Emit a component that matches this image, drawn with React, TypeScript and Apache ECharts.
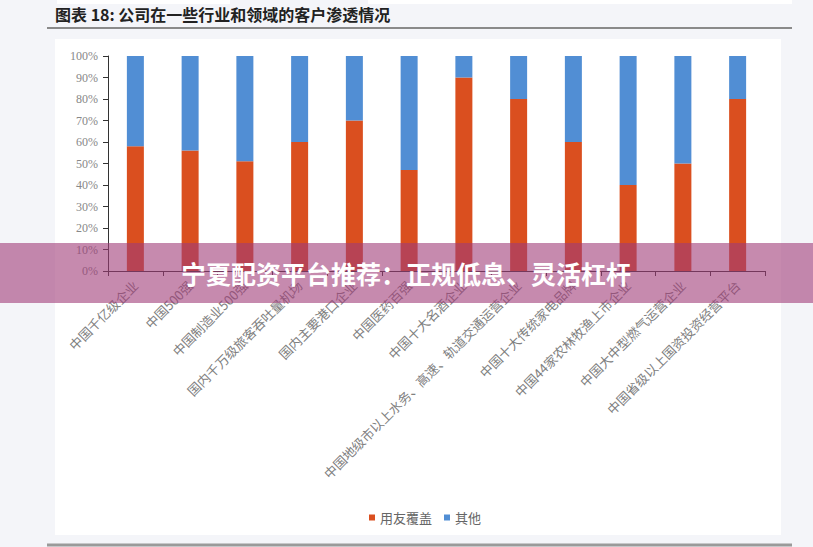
import React, { useEffect, useRef } from "react";
import * as echarts from "echarts";

const categories = [
  "中国千亿级企业",
  "中国500强",
  "中国制造业500强",
  "国内千万级旅客吞吐量机场",
  "国内主要港口企业",
  "中国医药百强",
  "中国十大名酒企业",
  "中国地级市以上水务、高速、轨道交通运营企业",
  "中国十大传统家电品牌",
  "中国44家农林牧渔上市企业",
  "中国大中型燃气运营企业",
  "中国省级以上国资投资经营平台",
];
const yonyouValues = [58, 56, 51, 60, 70, 47, 90, 80, 60, 40, 50, 80];
const otherValues = [42, 44, 49, 40, 30, 53, 10, 20, 40, 60, 50, 20];
const seriesNames = ["用友覆盖", "其他"];

const CJK = '"Noto Sans CJK SC", sans-serif';
const SERIF = '"Liberation Serif", "DejaVu Serif", serif';

const App = () => {
  const chartRef = useRef(null);

  useEffect(() => {
    const chart = echarts.init(chartRef.current, null, { renderer: "svg" });

    chart.setOption({
      animation: false,
      backgroundColor: "#f4f5f9",
      grid: { left: 108, right: 48, top: 56, bottom: 276, containLabel: false },
      legend: {
        data: seriesNames,
        top: 506,
        left: 364,
        icon: "rect",
        itemWidth: 6,
        itemHeight: 6,
        itemGap: 12,
        textStyle: { fontSize: 13, color: "#666", fontFamily: CJK },
      },
      xAxis: {
        type: "category",
        data: categories,
        axisLine: { lineStyle: { color: "#333", width: 1 } },
        axisTick: { show: true, length: 5, lineStyle: { color: "#333" } },
        axisLabel: {
          interval: 0,
          rotate: 45,
          margin: 12,
          fontSize: 13,
          color: "#808080",
          fontFamily: CJK,
        },
      },
      yAxis: {
        type: "value",
        min: 0,
        max: 100,
        interval: 10,
        splitLine: { show: false },
        axisLine: { show: true, lineStyle: { color: "#333", width: 1 } },
        axisTick: { show: true, length: 5, lineStyle: { color: "#333" } },
        axisLabel: {
          formatter: "{value}%",
          fontSize: 12,
          color: "#888",
          margin: 10,
          fontFamily: SERIF,
        },
      },
      series: [
        {
          name: seriesNames[0],
          type: "bar",
          stack: "total",
          barWidth: 17,
          data: yonyouValues,
          itemStyle: { color: "#da4f1f" },
        },
        {
          name: seriesNames[1],
          type: "bar",
          stack: "total",
          barWidth: 17,
          data: otherValues,
          itemStyle: { color: "#518ed4" },
        },
      ],
      graphic: [
        {
          type: "rect",
          z: -10,
          silent: true,
          shape: { x: 55, y: 39, width: 726, height: 496 },
          style: { fill: "#ffffff" },
        },
        {
          type: "rect",
          z: -10,
          silent: true,
          shape: { x: 57, y: 0, width: 173, height: 4 },
          style: { fill: "#ffffff" },
        },
        {
          type: "rect",
          z: -10,
          silent: true,
          shape: { x: 368, y: 0, width: 424, height: 4 },
          style: { fill: "#ffffff" },
        },
        {
          type: "text",
          x: 55,
          y: 6,
          silent: true,
          style: {
            text: "图表 18: 公司在一些行业和领域的客户渗透情况",
            fontSize: 16,
            fontWeight: "bold",
            fill: "#222",
            fontFamily: CJK,
          },
        },
        {
          type: "line",
          silent: true,
          shape: { x1: 47, y1: 28, x2: 792, y2: 28 },
          style: { stroke: "#8a8a8a", lineWidth: 2 },
        },
        {
          type: "line",
          silent: true,
          shape: { x1: 47, y1: 545, x2: 792, y2: 545 },
          style: { stroke: "#9a9a9a", lineWidth: 3 },
        },
        {
          type: "rect",
          z: 100,
          silent: true,
          shape: { x: 0, y: 243, width: 813, height: 60 },
          style: { fill: "rgba(160, 60, 120, 0.6)" },
        },
        {
          type: "text",
          z: 101,
          silent: true,
          x: 406,
          y: 273,
          style: {
            text: "宁夏配资平台推荐：正规低息、灵活杠杆",
            fontSize: 25,
            fontWeight: "bold",
            fill: "#ffffff",
            fontFamily: CJK,
            align: "center",
            verticalAlign: "middle",
          },
        },
      ],
    });

    return () => {
      chart.dispose();
    };
  }, []);

  return (
    <div
      ref={chartRef}
      style={{ position: "fixed", left: 0, top: 0, width: "813px", height: "547px" }}
    ></div>
  );
};

export default App;
